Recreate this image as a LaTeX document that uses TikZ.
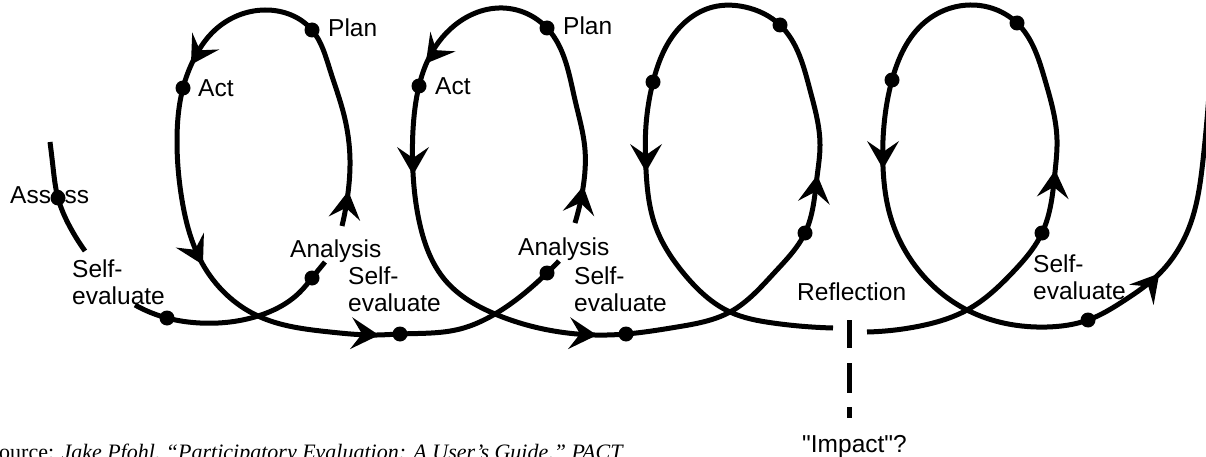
\documentclass[tikz,border=0pt]{standalone}
\usepackage{fontspec}
\setmainfont{Liberation Sans}
\newfontfamily\srcfont{Liberation Serif}
\newfontfamily\plainsans{Liberation Sans}
\usetikzlibrary{hobby}
\begin{document}
\begin{tikzpicture}[x=1pt,y=-1pt,
  spiral/.style={line width=5pt, line join=round, use Hobby shortcut},
  dot/.style={circle, fill=black, inner sep=0pt, minimum size=15pt},
  lbl/.style={inner sep=0pt, font=\fontsize{24.5}{27}\selectfont, anchor=base west},
  lbltwo/.style={inner sep=0pt, font=\fontsize{24.5}{27}\selectfont, anchor=north west, align=left},
  barb/.pic={\fill (2,0) -- (-26,16) -- (-15,0) -- (-26,-16) -- cycle;}
]
\useasboundingbox (0,0) rectangle (1206,457);

% spiral segments
\draw[spiral] (50,142) .. (53,167) .. (58,198) .. (70,227) .. (85,251);
\draw[spiral] (135,305) .. (167,318) .. (200,323) .. (258,316) .. (300,292) .. (312,278) .. (325,262);
\draw[spiral] (342,226) .. (348,193) .. (350,160) .. (344,115) .. (330,70) .. (312,30) .. (265,10) .. (215,30) .. (192,63) .. (183,88) .. (177,140) .. (182,200) .. (202,263) .. (258,316) .. (330,332) .. (377,335) .. (400,334) .. (460,329) .. (495,314) .. (547,273) .. (559,261);
\draw[spiral] (575,223) .. (583,188) .. (585,150) .. (575,100) .. (547,28) .. (503,8) .. (455,25) .. (427,62) .. (419,86) .. (413,130) .. (413,173) .. (420,225) .. (445,280) .. (495,314) .. (560,332) .. (595,335) .. (626,334) .. (677,327) .. (730,312) .. (775,272) .. (805,233) .. (817,177) .. (820,145) .. (810,90) .. (780,25) .. (745,7) .. (713,7) .. (672,37) .. (653,82) .. (646,125) .. (646,170) .. (655,225) .. (685,275) .. (730,312) .. (773,323) .. (833,328);
\draw[spiral] (867,332) .. (920,326) .. (967,310) .. (1013,272) .. (1042,233) .. (1055,172) .. (1057,140) .. (1045,80) .. (1017,23) .. (970,5) .. (925,22) .. (892,80) .. (884,125) .. (883,167) .. (890,215) .. (920,272) .. (967,310) .. (1047,327) .. (1088,320) .. (1125,300) .. (1158,275) .. (1190,225) .. (1203,160) .. (1210,80);

% dashed line to "Impact"?
\coordinate (dtop) at (849,320);
\node[inner sep=0pt, font=\plainsans\fontsize{24.5}{27}\selectfont, anchor=base west] (impact) at (802,452) {"Impact"?};
\draw[line width=5pt, dash pattern=on 28pt off 15pt on 30pt off 14pt on 11pt] (dtop) -- (849,418);

% arrowheads
\pic[rotate=238] at (192,63) {barb};
\pic[rotate=-62] at (202,263) {barb};
\pic[rotate=82] at (348,193) {barb};
\pic[rotate=-4] at (377,335) {barb};
\pic[rotate=232] at (427,62) {barb};
\pic[rotate=-90] at (413,173) {barb};
\pic[rotate=80] at (583,188) {barb};
\pic[rotate=-4] at (595,335) {barb};
\pic[rotate=-90] at (646,170) {barb};
\pic[rotate=83] at (817,177) {barb};
\pic[rotate=-90] at (883,167) {barb};
\pic[rotate=85] at (1055,172) {barb};
\pic[rotate=50] at (1158,275) {barb};

% dots
\node[dot] (assessdot) at (58,198) {};
\node[dot] (se1) at (167,318) {};
\node[dot] (an1) at (312,278) {};
\node[dot] (plan1) at (312,30) {};
\node[dot] (act1) at (183,88) {};
\node[dot] (se2) at (400,334) {};
\node[dot] (an2) at (547,273) {};
\node[dot] (plan2) at (547,28) {};
\node[dot] (act2) at (419,86) {};
\node[dot] (se3) at (626,334) {};
\node[dot] (l3a) at (653,82) {};
\node[dot] (l3b) at (780,25) {};
\node[dot] (l3c) at (805,233) {};
\node[dot] (l4a) at (892,80) {};
\node[dot] (l4b) at (1017,23) {};
\node[dot] (l4c) at (1042,233) {};
\node[dot] (se4) at (1088,320) {};

% labels
\node[lbl] (tplan1) at (328,37) {Plan};
\node[lbl] (tplan2) at (563,35) {Plan};
\node[lbl] (tact1) at (198,97) {Act};
\node[lbl] (tact2) at (435,95) {Act};
\node[lbl] (tassess) at (10,203) {Assess};
\node[lbl] (tan1) at (290,257) {Analysis};
\node[lbl] (tan2) at (518,255) {Analysis};
\node[lbltwo] (tse1) at (72,260) {Self-\\evaluate};
\node[lbltwo] (tse2) at (348,267) {Self-\\evaluate};
\node[lbltwo] (tse3) at (574,267) {Self-\\evaluate};
\node[lbltwo] (tse4) at (1033,255) {Self-\\evaluate};
\node[lbl] (trefl) at (797,300) {Reflection};

% source line (cut by the page edge)
\node[inner sep=0pt, anchor=base west, font=\srcfont\fontsize{22}{24}\selectfont] (src) at (-1,459) {ource: \textit{Jake Pfohl, “Participatory Evaluation: A User’s Guide,” PACT}};
\end{tikzpicture}
\end{document}
